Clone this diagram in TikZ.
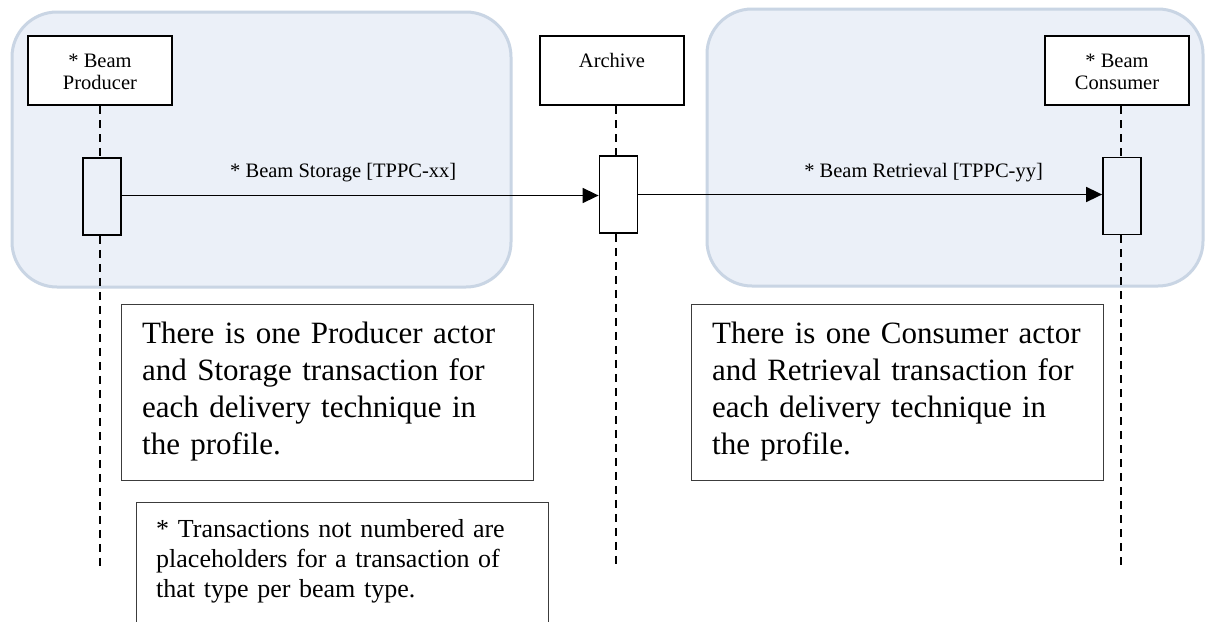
\documentclass[tikz,border=0pt]{standalone}
\usepackage{fontspec}
\setmainfont{Liberation Serif}
\usetikzlibrary{arrows.meta}
\definecolor{grpfill}{RGB}{235,240,248}
\definecolor{grpline}{RGB}{201,213,228}
\definecolor{notegray}{RGB}{60,60,60}
\begin{document}
\begin{tikzpicture}[x=1pt,y=-1pt,
  group/.style={draw=grpline, fill=grpfill, line width=3pt, rounded corners=45pt},
  actor/.style={draw=black, fill=white, line width=1.8pt, minimum width=144.6pt, minimum height=69.3pt, inner sep=0pt},
  actbox/.style={draw=black, line width=1.8pt, minimum width=38pt, minimum height=77pt, inner sep=0pt},
  lifeline/.style={draw=black, line width=1.6pt, dash pattern=on 8pt off 6pt},
  msg/.style={draw=black, line width=1.6pt, -{Triangle[length=16pt,width=15pt]}},
  small/.style={font=\fontsize{20.5}{22}\selectfont, inner sep=0pt},
  notebox/.style={draw=notegray, line width=1.3pt, fill=white, inner sep=0pt, anchor=north west},
  bigtext/.style={font=\fontsize{31}{37}\selectfont, inner sep=0pt, align=left, anchor=base west},
  foottext/.style={font=\fontsize{26}{30}\selectfont, inner sep=0pt, align=left, anchor=base west}
]
\useasboundingbox (0,0) rectangle (1206,621);
\clip (0,0) rectangle (1206,621);
\fill[white] (0,0) rectangle (1206,621);

% groups
\draw[group] (12,12) rectangle (511,287);
\draw[group] (707,9) rectangle (1203,286);

% actor boxes
\node[actor] (prod) at (100,70.5) {};
\node[actor] (arch) at (612,70.5) {};
\node[actor] (cons) at (1117,70.5) {};
\node[small, anchor=base] (prodt1) at (100,67) {* Beam};
\node[small, anchor=base] (prodt2) at (100,89) {Producer};
\node[small, anchor=base] (archt) at (612,67) {Archive};
\node[small, anchor=base] (const1) at (1117,67) {* Beam};
\node[small, anchor=base] (const2) at (1117,89) {Consumer};

% activation boxes
\node[actbox] (pact) at (102,196.5) {};
\node[actbox] (aact) at (618.5,194.5) {};
\node[actbox] (cact) at (1122,196) {};

% lifeline end points
\coordinate (pend) at (100,567);
\coordinate (aend) at (616,567);
\coordinate (cend) at (1121,567);

% lifelines
\draw[lifeline] (prod.south -| pend) -- (pact.north -| pend);
\draw[lifeline] (pact.south -| pend) -- (pend);
\draw[lifeline] (arch.south -| aend) -- (aact.north -| aend);
\draw[lifeline] (aact.south -| aend) -- (aend);
\draw[lifeline] (cons.south -| cend) -- (cact.north -| cend);
\draw[lifeline] (cact.south -| cend) -- (cend);

% messages
\draw[msg] (pact.east |- 0,195.5) -- (aact.west |- 0,195.5);
\draw[msg] (aact.east |- 0,194.5) -- (cact.west |- 0,194.5);
\node[small, anchor=base west] (m1) at (230,177) {* Beam Storage [TPPC-xx]};
\node[small, anchor=base east] (m2) at (1043,177) {* Beam Retrieval [TPPC-yy]};

% notes
\node[notebox, minimum width=412pt, minimum height=176pt] (pnote) at (121,304) {};
\node[bigtext, text width=385pt] (pnotet) at (142,343) {There is one Producer actor\\and Storage transaction for\\each delivery technique in\\the profile.};
\node[notebox, minimum width=412pt, minimum height=176pt] (cnote) at (691,304) {};
\node[bigtext, text width=385pt] (cnotet) at (712,343) {There is one Consumer actor\\and Retrieval transaction for\\each delivery technique in\\the profile.};
\node[notebox, minimum width=412.5pt, minimum height=140pt] (fnote) at (135.5,502) {};
\node[foottext, text width=385pt] (fnotet) at (156,537) {* Transactions not numbered are\\placeholders for a transaction of\\that type per beam type.};
\end{tikzpicture}
\end{document}
